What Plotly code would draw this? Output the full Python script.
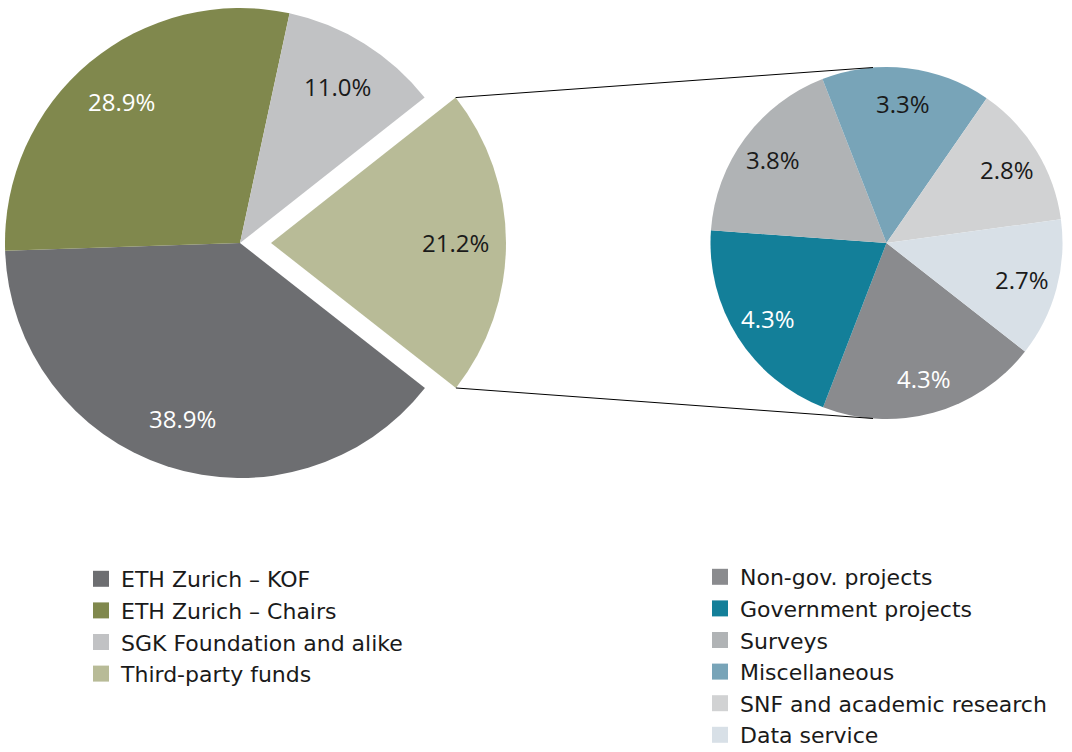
import math
import plotly.graph_objects as go

# ---------------- data ----------------
main_labels = ["ETH Zurich – KOF", "ETH Zurich – Chairs", "SGK Foundation and alike", "Third-party funds"]
main_values = [38.9, 28.9, 11.0, 21.2]
main_colors = ["#6d6e71", "#80884d", "#c1c2c4", "#b8bb97"]
main_text_colors = ["#ffffff", "#ffffff", "#1a1a1a", "#1a1a1a"]

sub_labels = ["Non-gov. projects", "Government projects", "Surveys", "Miscellaneous",
              "SNF and academic research", "Data service"]
sub_values = [4.3, 4.3, 3.8, 3.3, 2.8, 2.7]
sub_colors = ["#8a8b8e", "#137f99", "#b0b3b5", "#78a4b8", "#d1d2d3", "#d8e0e7"]
sub_text_colors = ["#ffffff", "#ffffff", "#1a1a1a", "#1a1a1a", "#1a1a1a", "#1a1a1a"]

EXPLODED = "Third-party funds"

# ---------------- geometry / style ----------------
W, H = 1072, 752
ROTATION = 128.1            # clockwise degrees from 12 o'clock where first slice starts
MAIN_C, MAIN_R = (240.0, 243.0), 235.0
SUB_C, SUB_R = (886.5, 243.0), 176.0
EXPLODE_PX = 31.0
MAIN_LABEL_FRAC = 0.785
SUB_LABEL_FRAC = 0.80
CONNECTOR_OFFSET_DEG = 4.4
FONT = "Open Sans"
LEGEND_FONT = "DejaVu Sans"
TRANSPARENT = "rgba(0,0,0,0)"


def px_x(x):
    return x / W


def px_y(y):
    return 1 - y / H


def domain(c, r):
    return dict(x=[px_x(c[0] - r), px_x(c[0] + r)], y=[px_y(c[1] + r), px_y(c[1] - r)])


def slice_angles(values):
    """math angles (deg, counter-clockwise from east) of each slice: (start, end, mid)."""
    total = sum(values)
    out = []
    cum = 0.0
    for v in values:
        start = 90 - ROTATION - 360 * cum / total
        end = start - 360 * v / total
        out.append((start, end, (start + end) / 2))
        cum += v
    return out


def polar(c, r, ang):
    a = math.radians(ang)
    return c[0] + r * math.cos(a), c[1] - r * math.sin(a)


main_ang = slice_angles(main_values)
sub_ang = slice_angles(sub_values)
ex_idx = main_labels.index(EXPLODED)
ex_mid = main_ang[ex_idx][2]
ex_c = (MAIN_C[0] + EXPLODE_PX * math.cos(math.radians(ex_mid)),
        MAIN_C[1] - EXPLODE_PX * math.sin(math.radians(ex_mid)))

fig = go.Figure()

common = dict(sort=False, direction="clockwise", rotation=ROTATION, textinfo="none",
              showlegend=False, hoverinfo="label+value", marker_line_width=0)

# main pie without the exploded slice
fig.add_trace(go.Pie(labels=main_labels, values=main_values,
                     marker_colors=[TRANSPARENT if l == EXPLODED else c for l, c in zip(main_labels, main_colors)],
                     domain=domain(MAIN_C, MAIN_R), **common))
# exploded slice
fig.add_trace(go.Pie(labels=main_labels, values=main_values,
                     marker_colors=[c if l == EXPLODED else TRANSPARENT for l, c in zip(main_labels, main_colors)],
                     domain=domain(ex_c, MAIN_R), **common))
# secondary pie
fig.add_trace(go.Pie(labels=sub_labels, values=sub_values, marker_colors=sub_colors,
                     domain=domain(SUB_C, SUB_R), **common))

# legend entries
for l, c in zip(main_labels, main_colors):
    fig.add_trace(go.Scatter(x=[None], y=[None], mode="markers", name=l, legend="legend",
                             marker=dict(symbol="square", size=16, color=c)))
for l, c in zip(sub_labels, sub_colors):
    fig.add_trace(go.Scatter(x=[None], y=[None], mode="markers", name=l, legend="legend2",
                             marker=dict(symbol="square", size=16, color=c)))

# percentage labels
annotations = []
for i, (v, ang) in enumerate(zip(main_values, main_ang)):
    c = ex_c if main_labels[i] == EXPLODED else MAIN_C
    x, y = polar(c, MAIN_R * MAIN_LABEL_FRAC, ang[2])
    annotations.append(dict(x=px_x(x), y=px_y(y), xref="paper", yref="paper", showarrow=False,
                            xanchor="center", yanchor="middle",
                            text=f"{v:.1f}%", font=dict(family=FONT, size=24, color=main_text_colors[i])))
for i, (v, ang) in enumerate(zip(sub_values, sub_ang)):
    x, y = polar(SUB_C, SUB_R * SUB_LABEL_FRAC, ang[2])
    annotations.append(dict(x=px_x(x), y=px_y(y), xref="paper", yref="paper", showarrow=False,
                            xanchor="center", yanchor="middle",
                            text=f"{v:.1f}%", font=dict(family=FONT, size=24, color=sub_text_colors[i])))

# connector lines
p_top = polar(ex_c, MAIN_R, main_ang[ex_idx][0])
p_bot = polar(ex_c, MAIN_R, main_ang[ex_idx][1])
q_top = polar(SUB_C, SUB_R, 90 + CONNECTOR_OFFSET_DEG)
q_bot = polar(SUB_C, SUB_R, 270 - CONNECTOR_OFFSET_DEG)
shapes = []
for p, q in [(p_top, q_top), (p_bot, q_bot)]:
    shapes.append(dict(type="line", xref="paper", yref="paper",
                       x0=px_x(p[0]), y0=px_y(p[1]), x1=px_x(q[0]), y1=px_y(q[1]),
                       line=dict(color="#000000", width=1)))

legend_style = dict(xanchor="left", yanchor="top", bgcolor=TRANSPARENT, borderwidth=0,
                    font=dict(family=LEGEND_FONT, size=22, color="#1a1a1a"), tracegroupgap=0)

fig.update_layout(
    width=W, height=H, margin=dict(l=0, r=0, t=0, b=0, autoexpand=False),
    paper_bgcolor="#ffffff", plot_bgcolor="#ffffff",
    xaxis=dict(visible=False), yaxis=dict(visible=False),
    annotations=annotations, shapes=shapes,
    legend=dict(x=px_x(81), y=px_y(558), **legend_style),
    legend2=dict(x=px_x(700), y=px_y(556), **legend_style),
)

fig.write_html("out.html", config={"displayModeBar": False},
               post_script="document.body.style.margin='0px';")
